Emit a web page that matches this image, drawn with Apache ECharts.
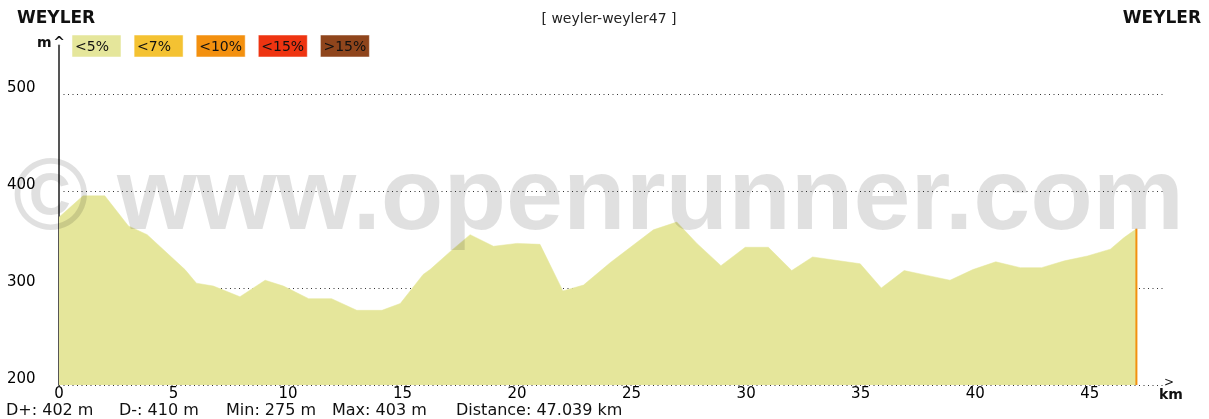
<!DOCTYPE html>
<html>
<head>
<meta charset="utf-8">
<script src="https://cdn.jsdelivr.net/npm/echarts@6/dist/echarts.min.js"></script>
<style>
html,body{margin:0;padding:0;background:#fff;}
#chart{width:1209px;height:419px;}
</style>
</head>
<body>
<div id="chart"></div>
<script>
// ---- data ----
const distKm = [0, 1.05, 2.0, 3.03, 3.85, 5.5, 6.0, 6.74, 7.9, 9.0, 9.8, 10.9, 11.9, 13.0, 14.1, 14.9, 15.9, 16.2, 17.1, 17.95, 18.97, 19.99, 21.0, 22.0, 22.9, 24.06, 25.95, 26.97, 27.85, 28.9, 29.96, 30.97, 31.99, 32.9, 34.98, 35.9, 36.9, 37.9, 38.9, 39.9, 40.9, 41.97, 42.9, 43.9, 44.9, 45.9, 46.5, 47.039];
const elevM  = [373, 395, 395, 364, 355, 319, 305, 302, 291, 308, 302, 289, 289, 277, 277, 284, 314, 319, 338, 355, 343, 346, 345, 297, 303, 326, 360, 368, 346, 323, 342, 342, 318, 332, 325, 300, 318, 313, 308, 319, 327, 321, 321, 328, 333, 340, 352, 361];
const yTicks = {min: 200, max: 550, step: 100};
const xTicks = {min: 0, max: 48.2, step: 5};
const legendLabels = ['<5%', '<7%', '<10%', '<15%', '>15%'];
const legendColors = ['#e5e69b', '#f4c232', '#f3900f', '#ee3411', '#8f451c'];
const titleLeft = 'WEYLER';
const titleRight = 'WEYLER';
const routeName = '[ weyler-weyler47 ]';
const statTexts = ['D+: 402 m', 'D-: 410 m', 'Min: 275 m', 'Max: 403 m', 'Distance: 47.039 km'];
const statX = [6, 119, 226, 332, 456];

const FONT = 'DejaVu Sans';
const profile = distKm.map((d, i) => [d, elevM[i]]);
const lastKm = distKm[distKm.length - 1];
const lastElev = elevM[elevM.length - 1];

const graphics = [];
// titles
graphics.push({type:'text', left:17, top:10, style:{text:titleLeft, font:'bold 17px "' + FONT + '"', fill:'#111'}});
graphics.push({type:'text', right:8, top:10, style:{text:titleRight, font:'bold 17px "' + FONT + '"', fill:'#111'}});
graphics.push({type:'text', x:609, y:19, style:{text:routeName, font:'14px "' + FONT + '"', fill:'#222', align:'center', verticalAlign:'middle'}});
// legend boxes
legendLabels.forEach((lab, i) => {
  const bx = 72 + i * 62.1;
  graphics.push({type:'rect', shape:{x:bx, y:35, width:49, height:22}, style:{fill:legendColors[i], stroke:'rgba(255,255,255,0.5)', lineWidth:1}});
  graphics.push({type:'text', x:bx + 3, y:47.5, style:{text:lab, font:'14px "' + FONT + '"', fill:'#111', verticalAlign:'middle'}});
});
// axis names
graphics.push({type:'text', x:37, y:43.5, style:{text:'m', font:'bold 14px "' + FONT + '"', fill:'#111', verticalAlign:'middle'}});
graphics.push({type:'text', x:59, y:43.5, style:{text:'^', font:'bold 14px "' + FONT + '"', fill:'#111', align:'center', verticalAlign:'middle'}});
graphics.push({type:'text', x:1164, y:383, style:{text:'>', font:'12px "' + FONT + '"', fill:'#111', verticalAlign:'middle'}});
graphics.push({type:'text', x:1159, y:395, style:{text:'km', font:'bold 14px "' + FONT + '"', fill:'#111', verticalAlign:'middle'}});
// stats
statTexts.forEach((t, i) => {
  graphics.push({type:'text', x:statX[i], y:411, style:{text:t, font:'16px "' + FONT + '"', fill:'#111', verticalAlign:'middle'}});
});
// watermark
graphics.push({type:'text', x:13, y:252, z:100, style:{text:'\u00a9 www.openrunner.com', font:'bold 102.5px "Liberation Sans"', fill:'rgba(0,0,0,0.12)', verticalAlign:'bottom'}});

const chart = echarts.init(document.getElementById('chart'), null, {renderer:'canvas'});
chart.setOption({
  animation: false,
  backgroundColor: '#fff',
  grid: {left: 59, right: 46, top: 45.5, bottom: 34, containLabel: false},
  xAxis: {
    type: 'value', min: xTicks.min, max: xTicks.max, interval: xTicks.step,
    axisLine: {show: false}, axisTick: {show: false}, splitLine: {show: false},
    axisLabel: {showMaxLabel: false, color: '#000', fontFamily: FONT, fontSize: 15, margin: 2}
  },
  yAxis: {
    type: 'value', min: yTicks.min, max: yTicks.max, interval: yTicks.step,
    axisLine: {show: true, lineStyle: {color: '#555', width: 2}},
    axisTick: {show: false},
    splitLine: {show: true, showMaxLine: false, lineStyle: {color: '#333', width: 1, type: [1, 3.5]}},
    axisLabel: {showMaxLabel: false, align: 'left', margin: 52, verticalAlign: 'bottom', lineHeight: 11, color: '#000', fontFamily: FONT, fontSize: 15}
  },
  series: [
    {
      type: 'line', data: profile, symbol: 'none', z: 2,
      lineStyle: {width: 0.5, color: legendColors[0]},
      areaStyle: {color: legendColors[0], opacity: 1, origin: 'start'}
    },
    {
      type: 'line', data: [[lastKm, yTicks.min], [lastKm, lastElev]], symbol: 'none', z: 3,
      lineStyle: {width: 2, color: legendColors[2]}
    }
  ],
  graphic: graphics
});
</script>
</body>
</html>
